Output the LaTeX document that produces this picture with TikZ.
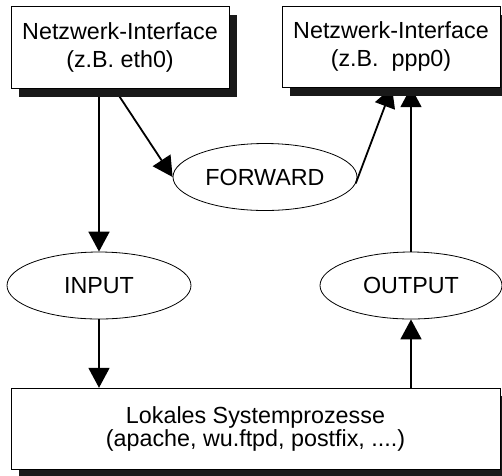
\documentclass[tikz,border=0pt]{standalone}
\usepackage{fontspec}
\setmainfont{Liberation Sans}
\usetikzlibrary{shapes.geometric,arrows.meta}
\begin{document}
\begin{tikzpicture}[x=1pt,y=-1pt,
  box/.style={draw=black,fill=white,line width=0.9pt,inner sep=0pt,align=center,
    font=\fontsize{23.3}{28}\selectfont},
  shadow/.style={fill=black!90},
  oval/.style={ellipse,draw=black,fill=white,line width=0.8pt,inner sep=0pt,
    minimum width=184pt,minimum height=67pt,font=\fontsize{23.3}{26}\selectfont},
  flow/.style={line width=1.8pt,-{Triangle[length=20pt,width=21pt]}}]
\useasboundingbox (0,0) rectangle (502,475);
\clip (0,0) rectangle (502,475);
% ellipses
\node[oval] (fwd) at (265,177) {FORWARD};
\node[oval] (inp) at (99,285.5) {INPUT};
\node[oval,minimum width=182pt] (out) at (411,285.5) {OUTPUT};
% box geometry (invisible anchors for connectors)
\node[minimum width=218pt,minimum height=82pt,inner sep=0pt] (box1) at (120,47) {};
\node[minimum width=218pt,minimum height=81pt,inner sep=0pt] (box2) at (391,46.5) {};
\node[minimum width=489pt,minimum height=81pt,inner sep=0pt] (box3) at (255.5,428.5) {};
% connectors
\draw[flow] (inp.north |- box1.south) -- (inp.north);
\draw[flow] (inp.south) -- (inp.south |- box3.north);
\draw[flow] (out.south |- box3.north) -- (out.south);
\draw[flow] (out.north) -- (out.north |- box2.south);
\draw[flow] ([xshift=-6pt]box1.south) -- (fwd.west);
\draw[flow] (fwd.-4) -- ([xshift=1pt]box2.south);
% shadows
\fill[shadow] ([shift={(8pt,-9pt)}]box1.north west) rectangle ([shift={(8pt,-9pt)}]box1.south east);
\fill[shadow] ([shift={(8pt,-9pt)}]box2.north west) rectangle ([shift={(8pt,-9pt)}]box2.south east);
\fill[shadow] ([shift={(8pt,-8pt)}]box3.north west) rectangle ([shift={(8pt,-8pt)}]box3.south east);
% boxes
\node[box,minimum width=218pt,minimum height=82pt] (b1) at (box1) {Netzwerk-Interface\\(z.B. eth0)};
\node[box,minimum width=218pt,minimum height=81pt] (b2) at (box2) {Netzwerk-Interface\\(z.B.~~ppp0)};
\node[box,minimum width=489pt,minimum height=81pt,font=\fontsize{23.3}{23}\selectfont] (b3) at (box3) {Lokales Systemprozesse\\(apache, wu.ftpd, postfix, ....)};
\end{tikzpicture}
\end{document}
